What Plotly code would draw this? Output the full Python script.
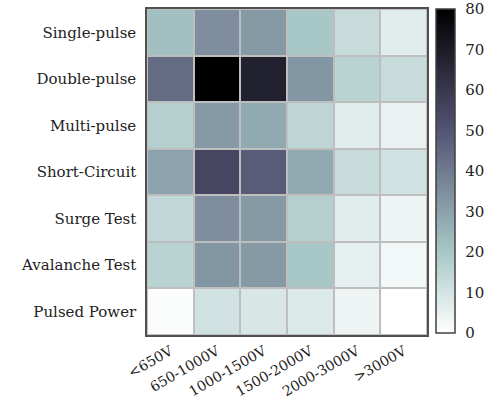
import plotly.graph_objects as go

tests = ["Single-pulse", "Double-pulse", "Multi-pulse", "Short-Circuit",
         "Surge Test", "Avalanche Test", "Pulsed Power"]
voltages = ["<650V", "650-1000V", "1000-1500V", "1500-2000V", "2000-3000V", ">3000V"]

single_pulse = [22, 35, 32, 20, 13, 7]
double_pulse = [44, 80, 68, 33, 16, 13]
multi_pulse = [17, 32, 28, 15, 7, 5]
short_circuit = [30, 55, 48, 28, 13, 11]
surge_test = [14, 35, 32, 17, 7, 4]
avalanche_test = [16, 33, 32, 20, 6, 3]
pulsed_power = [1, 11, 9, 8, 4, 0]

z = [single_pulse, double_pulse, multi_pulse, short_circuit,
     surge_test, avalanche_test, pulsed_power]

# matplotlib bone_r colormap
def bone(t):
    if t < 0.746032:
        r = 0.652778 * t / 0.746032
    else:
        r = 0.652778 + (t - 0.746032) / (1 - 0.746032) * (1 - 0.652778)
    if t < 0.365079:
        g = 0.319444 * t / 0.365079
    elif t < 0.746032:
        g = 0.319444 + (t - 0.365079) / (0.746032 - 0.365079) * (0.777778 - 0.319444)
    else:
        g = 0.777778 + (t - 0.746032) / (1 - 0.746032) * (1 - 0.777778)
    if t < 0.365079:
        b = 0.444444 * t / 0.365079
    else:
        b = 0.444444 + (t - 0.365079) / (1 - 0.365079) * (1 - 0.444444)
    return "rgb(%d,%d,%d)" % (round(r * 255), round(g * 255), round(b * 255))

n = 20
colorscale = [[i / n, bone(1 - i / n)] for i in range(n + 1)]

font_family = "DejaVu Serif"
fs = 15

fig = go.Figure(go.Heatmap(
    z=z, x=voltages, y=tests,
    colorscale=colorscale, zmin=0, zmax=80,
    xgap=2, ygap=2,
    colorbar=dict(
        thickness=19, len=0.994, lenmode="fraction",
        x=1.032, xanchor="left", y=0.503, yanchor="middle",
        outlinewidth=1.5, outlinecolor="#404040",
        tickvals=[0, 10, 20, 30, 40, 50, 60, 70, 80],
        ticks="outside", ticklen=7, tickcolor="rgba(0,0,0,0)",
        tickfont=dict(family=font_family, size=fs, color="#222"),
        xpad=0, ypad=0,
    ),
    hoverongaps=False,
))

fig.update_layout(
    width=485, height=402,
    margin=dict(l=147, r=58, t=9, b=67, autoexpand=False),
    paper_bgcolor="white",
    plot_bgcolor="#bebebe",
    font=dict(family=font_family, size=fs, color="#222"),
)
fig.update_xaxes(
    tickangle=-30, showgrid=False, zeroline=False, automargin=False,
    showline=True, linecolor="#505050", linewidth=1.5, mirror=True,
    ticks="outside", ticklen=1, tickcolor="rgba(0,0,0,0)",
    tickfont=dict(family=font_family, size=14),
)
fig.update_yaxes(
    autorange="reversed", showgrid=False, zeroline=False, automargin=False,
    showline=True, linecolor="#505050", linewidth=1.5, mirror=True,
    ticks="outside", ticklen=6, tickcolor="rgba(0,0,0,0)",
    tickfont=dict(family=font_family, size=fs),
)

fig.write_html("out.html")
